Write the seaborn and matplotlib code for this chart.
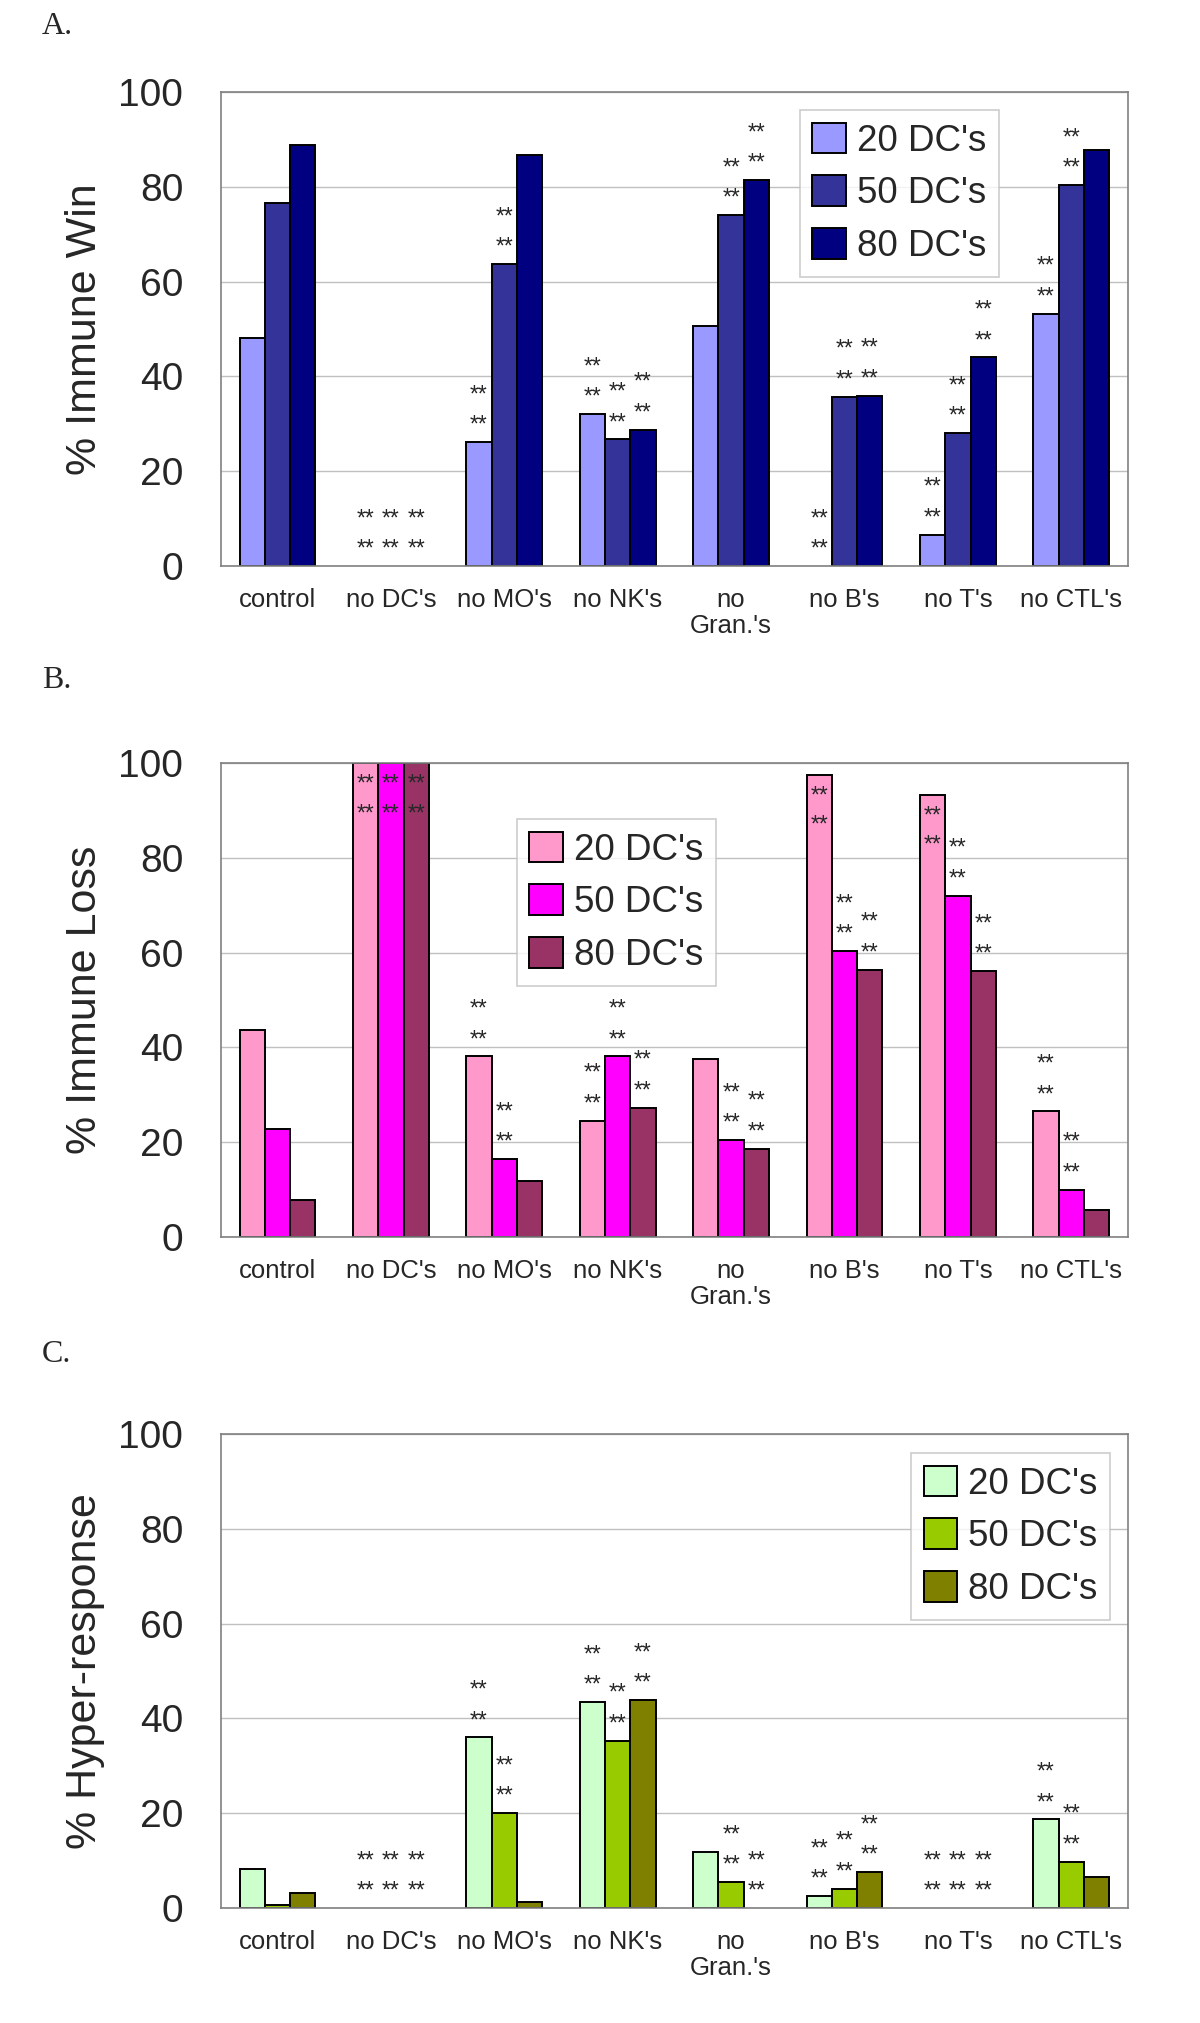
"""
Immune outcome per knockout condition and DC dose: three stacked bar panels
"""

import numpy as np
import pandas as pd
import matplotlib
matplotlib.use('Agg')
import matplotlib.pyplot as plt
from matplotlib.patches import Patch
import seaborn as sns

sns.set_style('white')
plt.rcParams['font.family'] = ['Liberation Sans', 'DejaVu Sans']

# ============================================================================
# DATA
# ============================================================================
categories = ['control', "no DC's", "no MO's", "no NK's", "no\nGran.'s",
              "no B's", "no T's", "no CTL's"]
doses = ["20 DC's", "50 DC's", "80 DC's"]

# panel A: % immune win
win_20 = [48.2, 0, 26.1, 32.0, 50.6, 0, 6.6, 53.2]
win_50 = [76.6, 0, 63.7, 26.7, 74.0, 35.7, 28.0, 80.3]
win_80 = [88.9, 0, 86.8, 28.8, 81.4, 35.9, 44.0, 87.8]

# panel B: % immune loss
loss_20 = [43.6, 100, 38.1, 24.5, 37.6, 97.5, 93.3, 26.5]
loss_50 = [22.8, 100, 16.4, 38.1, 20.4, 60.3, 72.0, 10.0]
loss_80 = [7.9, 100, 11.9, 27.3, 18.6, 56.4, 56.1, 5.7]

# panel C: % hyper-response
hyper_20 = [8.2, 0, 36.0, 43.4, 11.8, 2.5, 0, 18.7]
hyper_50 = [0.6, 0, 20.0, 35.3, 5.5, 4.1, 0, 9.8]
hyper_80 = [3.1, 0, 1.3, 43.9, 0, 7.6, 0, 6.6]

# significance markers (1 = "**" pair drawn) per dose, per category
sig_20 = [0, 1, 1, 1, 0, 1, 1, 1]
sig_50 = [0, 1, 1, 1, 1, 1, 1, 1]
sig_80 = [0, 1, 0, 1, 1, 1, 1, 0]

panels = [
    ('A.', '% Immune Win', [win_20, win_50, win_80],
     ['#9999ff', '#333399', '#000080'], (0.638, 0.962)),
    ('B.', '% Immune Loss', [loss_20, loss_50, loss_80],
     ['#ff99cc', '#ff00ff', '#993366'], (0.326, 0.882)),
    ('C.', '% Hyper-response', [hyper_20, hyper_50, hyper_80],
     ['#ccffcc', '#99cc00', '#808000'], (0.761, 0.960)),
]
sig = [sig_20, sig_50, sig_80]

# ============================================================================
# PLOT
# ============================================================================
fig = plt.figure(figsize=(12, 20.23), dpi=100)

ax_bottoms = [0.7202, 0.3885, 0.0568]
label_y = [0.9833, 0.6600, 0.3265]

for (tag, ylab, series, colors, leg_pos), bottom, ly in zip(panels, ax_bottoms, label_y):
    ax = fig.add_axes([0.184, bottom, 0.756, 0.2343])

    df = pd.DataFrame({
        'group': np.tile(categories, 3),
        'dose': np.repeat(doses, len(categories)),
        'value': np.concatenate(series),
    })
    sns.barplot(data=df, x='group', y='value', hue='dose', palette=colors,
                saturation=1, width=0.67, gap=0, edgecolor='black',
                linewidth=1.4, errorbar=None, legend=False, ax=ax)

    # significance stars
    for k, cont in enumerate(ax.containers):
        for j, bar in enumerate(cont.patches):
            h = bar.get_height()
            if h == 0:
                bar.set_visible(False)
            if not sig[k][j]:
                continue
            xc = bar.get_x() + bar.get_width() / 2
            offs = (-20, -41) if h > 90 else (7.5, 29.5)
            for off in offs:
                ax.annotate('**', (xc, h), xytext=(0, off),
                            textcoords='offset points', ha='center',
                            va='baseline', fontsize=16.5)

    ax.set_ylim(0, 100)
    ax.set_xlim(-0.5, 7.5)
    ax.set_yticks(range(0, 101, 20))
    ax.yaxis.grid(True, color='#c0c0c0', linewidth=1)
    ax.set_axisbelow(True)
    for sp in ax.spines.values():
        sp.set_color('#808080')
        sp.set_linewidth(1.2)

    ax.set_xticks(range(len(categories)))
    ax.set_xticklabels(categories, fontsize=18.5, linespacing=1.1)
    ax.set_xticks(np.arange(-0.5, 8, 1), minor=True)
    ax.tick_params(axis='x', which='major', length=0, pad=16)
    ax.tick_params(axis='x', which='minor', length=7, color='#808080',
                   width=1.2, direction='out')
    ax.tick_params(axis='y', length=12, color='#808080', width=1.2,
                   direction='out', labelsize=28, pad=15)

    ax.set_xlabel('')
    ax.set_ylabel(ylab, fontsize=31)
    ax.yaxis.set_label_coords(-0.128, 0.5)

    handles = [Patch(facecolor=c, edgecolor='black', linewidth=1.4) for c in colors]
    leg = ax.legend(handles, doses, loc='upper left', bbox_to_anchor=leg_pos,
                    borderaxespad=0, fontsize=26.5, frameon=True, fancybox=False,
                    handlelength=0.9, handleheight=0.9, handletextpad=0.3,
                    labelspacing=0.45, borderpad=0.35)
    leg.get_frame().set_edgecolor('#c0c0c0')
    leg.get_frame().set_linewidth(1.2)

    fig.text(0.035, ly, tag, fontsize=23, family='Liberation Serif', va='baseline')

fig.savefig('out.png', dpi=100)
plt.close()
